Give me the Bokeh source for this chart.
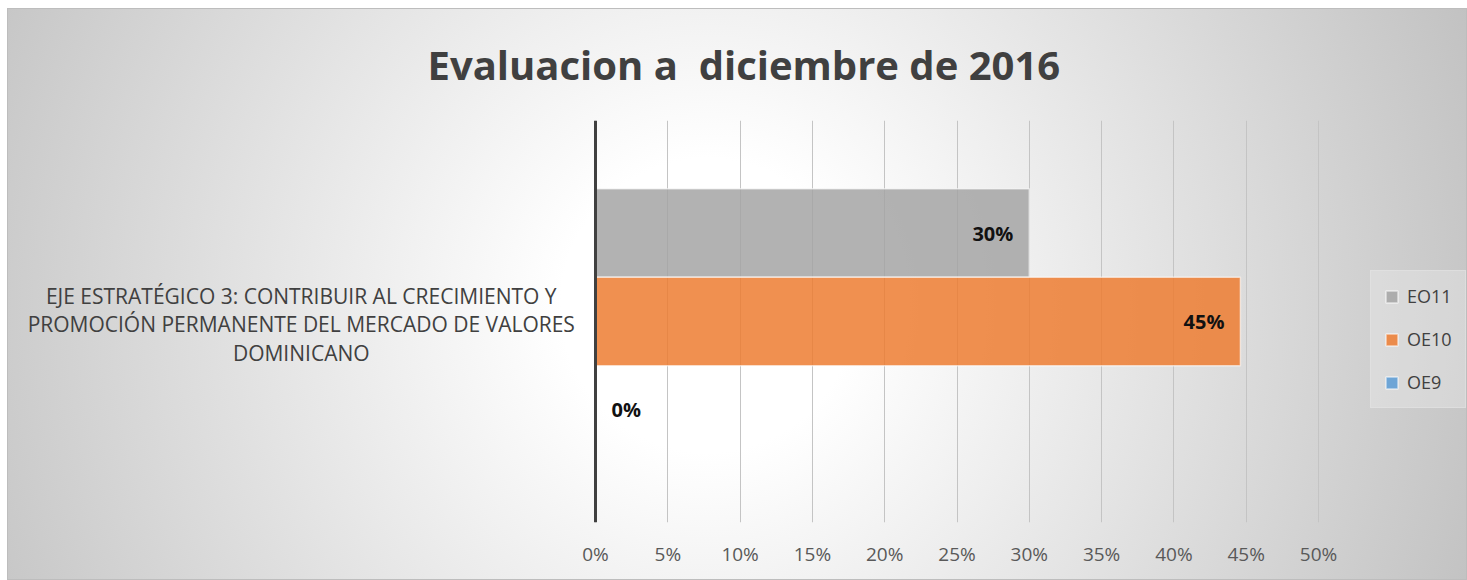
from bokeh.plotting import figure
from bokeh.models import (ColumnDataSource, FactorRange, Range1d, LabelSet, Label, Legend, LegendItem,
                          NumeralTickFormatter, FixedTicker, Span)
from bokeh.transform import dodge
from bokeh.core.properties import value
from bokeh.embed import file_html
from bokeh.resources import INLINE

# ---- data ----
title_text = "Evaluacion a\u00a0 diciembre de 2016"
category = "EJE ESTRATÉGICO 3: CONTRIBUIR AL CRECIMIENTO Y\nPROMOCIÓN PERMANENTE DEL MERCADO DE VALORES\nDOMINICANO"
series_names = ["EO11", "OE10", "OE9"]
series_values = [0.30, 0.446, 0.0]
series_colors = ["#A5A5A5", "#ED7D31", "#5B9BD5"]
tick_values = [0.0, 0.05, 0.10, 0.15, 0.20, 0.25, 0.30, 0.35, 0.40, 0.45, 0.50]

FONT = "Open Sans"

p = figure(
    width=1460, height=572,
    y_range=FactorRange(factors=[category]),
    x_range=Range1d(-0.40664, 0.60304),
    output_backend="svg", toolbar_location=None,
    min_border_left=0, min_border_right=0, min_border_top=112, min_border_bottom=58,
)
p.styles = {
    "margin-left": "7px",
    "margin-top": "8px",
    "background": "radial-gradient(circle at 48% 52%, #ffffff 18%, #c2c2c2 100%)",
    "outline": "1px solid #bdbdbd",
    "outline-offset": "-1px",
}
p.background_fill_alpha = 0
p.border_fill_alpha = 0
p.outline_line_color = None

p.title.text = title_text
p.title.align = "left"
p.title.vertical_align = "top"
p.title.offset = 420
p.title.standoff = 54
p.title.text_font = FONT
p.title.text_font_style = "bold"
p.title.text_font_size = "40px"
p.title.text_color = "#404040"

offsets = [0.22, 0.0, -0.22]
items = []
for name, val, col, off in zip(series_names, series_values, series_colors, offsets):
    src = ColumnDataSource(dict(
        cat=[category], value=[val],
        label=[f"{round(val*100):.0f}%"],
        align=["right" if val > 0 else "left"],
        xoff=[-16 if val > 0 else 16],
    ))
    r = p.hbar(y=dodge("cat", off, range=p.y_range), left=0, right="value", height=0.22,
               source=src, fill_color=col, fill_alpha=0.85,
               line_color="#ffffff", line_alpha=0.6, line_width=1.5)
    items.append(LegendItem(label=name, renderers=[r]))
    labels = LabelSet(x="value", y=dodge("cat", off, range=p.y_range), text="label", source=src,
                      text_align={"field": "align"}, x_offset={"field": "xoff"},
                      text_baseline="middle", text_font=value(FONT), text_font_style="bold",
                      text_font_size="20px", text_color="#111111")
    p.add_layout(labels)

# value axis line at 0
p.add_layout(Span(location=0, dimension="height", line_color="#404040", line_width=3))

# category label (centered multi-line text left of the axis)
cat_label = Label(x=-0.2035, y=0.5, text=category, text_align="center", text_baseline="middle",
                  y_offset=-3,
                  text_font=FONT, text_font_size="21px", text_color="#404040",
                  text_line_height=1.03)
p.add_layout(cat_label)

# axes
p.xaxis.ticker = FixedTicker(ticks=tick_values)
p.xaxis.formatter = NumeralTickFormatter(format="0%")
p.xaxis.axis_line_color = None
p.xaxis.major_tick_line_color = None
p.xaxis.minor_tick_line_color = None
p.xaxis.major_label_text_font = FONT
p.xaxis.major_label_text_font_size = "19px"
p.xaxis.major_label_text_color = "#595959"
p.xaxis.major_label_standoff = 12

p.yaxis.visible = False

p.xgrid.grid_line_color = "#c4c4c4"
p.xgrid.grid_line_width = 1
p.ygrid.grid_line_color = None

legend = Legend(items=items, location=(1363, 114), orientation="vertical",
                glyph_width=15, glyph_height=15, label_height=24, spacing=19, padding=13,
                label_standoff=8, label_text_font=FONT, label_text_font_size="18px",
                label_text_color="#404040", background_fill_color="#f0f0f0",
                background_fill_alpha=0.35, border_line_color="#e6e6e6", border_line_width=1,
                margin=0)
p.add_layout(legend, "center")

open("out.html", "w").write(file_html(p, INLINE))
